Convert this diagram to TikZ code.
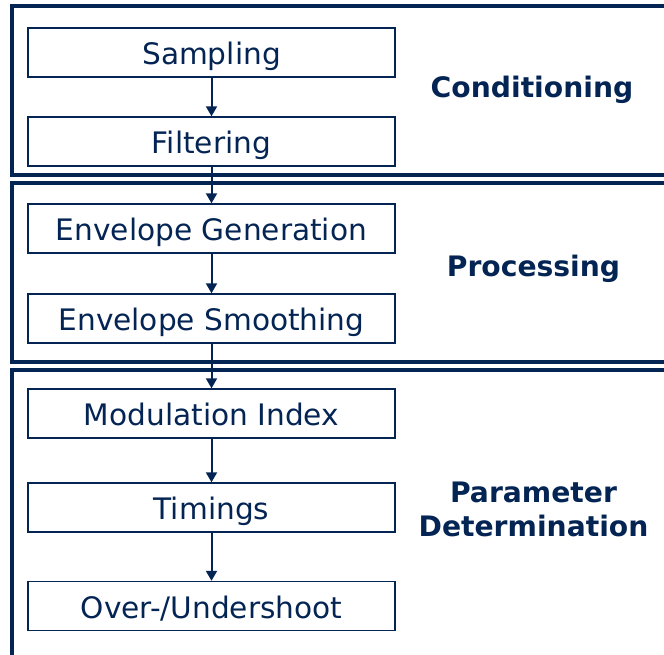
\documentclass[tikz,border=0pt]{standalone}
\usepackage{fontspec}
\setmainfont{DejaVu Sans}
\usetikzlibrary{arrows.meta}
\definecolor{navy}{RGB}{4,37,84}
\begin{document}
\begin{tikzpicture}[x=1pt,y=-1pt,
  frame/.style={draw=navy,line width=3.8pt},
  stepbox/.style={draw=navy,line width=1.4pt,minimum width=367pt,minimum height=49pt,
    inner sep=0pt,text height=24pt,text depth=0pt,text=navy,
    font=\fontsize{29.6}{34}\selectfont},
  grouplabel/.style={text=navy,align=center,font=\fontsize{28.2}{34}\selectfont\bfseries},
  flow/.style={draw=navy,line width=2pt,-{Triangle[width=11pt,length=10pt]}}]
\clip (0,0) rectangle (664,655);
\fill[white] (0,0) rectangle (664,655);
% group frames
\draw[frame] (12,6) rectangle (690,175);
\draw[frame] (12,183) rectangle (690,362);
\draw[frame] (12,370) rectangle (690,700);
% boxes
\node[stepbox] (samp) at (211.5,52.5) {Sampling};
\node[stepbox] (filt) at (211.5,141.5) {Filtering};
\node[stepbox] (envg) at (211.5,228.5) {Envelope Generation};
\node[stepbox] (envs) at (211.5,318.5) {Envelope Smoothing};
\node[stepbox] (modi) at (211.5,413.5) {Modulation Index};
\node[stepbox] (timi) at (211.5,507.5) {Timings};
\node[stepbox] (over) at (211.5,606) {Over-/Undershoot};
% labels
\node[grouplabel] (lcond) at (532,89.5) {Conditioning};
\node[grouplabel] (lproc) at (533.5,268.5) {Processing};
\node[grouplabel] (lparam) at (533.5,509) {Parameter\\Determination};
% arrows
\draw[flow] (samp) -- (filt);
\draw[flow] (filt) -- (envg);
\draw[flow] (envg) -- (envs);
\draw[flow] (envs) -- (modi);
\draw[flow] (modi) -- (timi);
\draw[flow] (timi) -- (over);
\end{tikzpicture}
\end{document}
